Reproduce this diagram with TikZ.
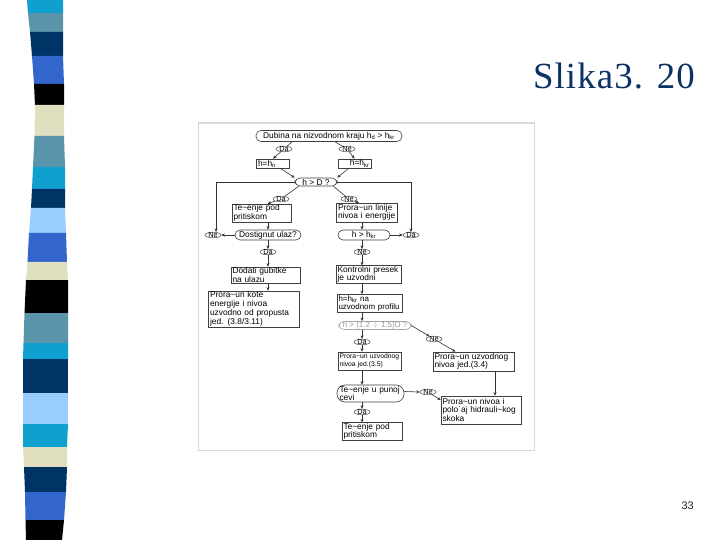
\documentclass[tikz,border=0pt]{standalone}
\usepackage{fontspec}
\setmainfont{Liberation Sans}
\newfontfamily\serifT[LetterSpace=3]{Liberation Serif}
\usetikzlibrary{arrows.meta,shapes.geometric,calc}
\definecolor{scyan}{RGB}{16,160,208}
\definecolor{ssteel}{RGB}{90,148,170}
\definecolor{snavy}{RGB}{0,51,102}
\definecolor{sroyal}{RGB}{51,102,204}
\definecolor{sbeige}{RGB}{224,224,192}
\definecolor{slight}{RGB}{153,204,255}
\definecolor{titlec}{RGB}{10,50,100}
\tikzset{
  fc/.style={font=\fontsize{8.4}{8.5}\selectfont},
  box/.style={draw=black!75, line width=0.6bp, fill=white, rectangle, inner xsep=1.5bp, inner ysep=0.6bp, align=left, fc},
  term/.style={draw=black!75, line width=0.6bp, rectangle, rounded corners=5bp, inner xsep=1bp, inner ysep=0.2bp, align=center, fc},
  yn/.style={draw=black!75, line width=0.5bp, ellipse, inner xsep=0.5bp, inner ysep=-0.6bp, minimum width=16bp, font=\fontsize{7.4}{7.4}\selectfont},
  arr/.style={-{Stealth[length=3.5bp,width=3bp]}, line width=0.6bp, draw=black!80},
  ln/.style={line width=0.6bp, draw=black!80}
}
\begin{document}
\begin{tikzpicture}[x=1bp,y=-1bp]
\useasboundingbox (0,0) rectangle (720,540);
% left stripe
\fill[scyan]  (27,0) -- (63,0) -- (63,13) -- (28,13) -- cycle;
\fill[ssteel] (28,13) -- (63,13) -- (63,32) -- (30,32) -- cycle;
\fill[snavy]  (30,32) -- (63,32) -- (63,56) -- (32,56) -- cycle;
\fill[sroyal] (32,56) -- (63,56) -- (64,84) -- (34,84) -- cycle;
\fill[black]  (34,84) -- (64,84) -- (64,105) -- (35,105) -- cycle;
\fill[sbeige] (35,105) -- (64,105) -- (64,136) -- (34.5,136) -- cycle;
\fill[ssteel] (34.5,136) -- (64,136) -- (65,167) -- (33,167) -- cycle;
\fill[scyan]  (33,167) -- (65,167) -- (65,189) -- (32,189) -- cycle;
\fill[snavy]  (32,189) -- (65,189) -- (65,208) -- (31,208) -- cycle;
\fill[slight] (31,208) -- (65,208) -- (66,233) -- (29,233) -- cycle;
\fill[sroyal] (29,233) -- (66,233) -- (67,262) -- (27.5,262) -- cycle;
\fill[sbeige] (27.5,262) -- (67,262) -- (68,280) -- (26,280) -- cycle;
\fill[black]  (26,280) -- (68,280) -- (68,313) -- (24.5,313) -- cycle;
\fill[ssteel] (24.5,313) -- (68,313) -- (68,343) -- (23.5,343) -- cycle;
\fill[scyan]  (23.5,343) -- (68,343) -- (68,359) -- (23,359) -- cycle;
\fill[snavy]  (23,359) -- (68,359) -- (68,393) -- (23,393) -- cycle;
\fill[slight] (23,393) -- (68,393) -- (68,424) -- (23,424) -- cycle;
\fill[scyan]  (23,424) -- (68,424) -- (67,447) -- (23,447) -- cycle;
\fill[sbeige] (23,447) -- (67,447) -- (67,467) -- (24,467) -- cycle;
\fill[snavy]  (24,467) -- (67,467) -- (66,492) -- (25,492) -- cycle;
\fill[sroyal] (25,492) -- (66,492) -- (64,520) -- (25.5,520) -- cycle;
\fill[black]  (25.5,520) -- (64,520) -- (62,540) -- (26,540) -- cycle;
% title and page number
\node[anchor=base east, text=titlec, font=\serifT\fontsize{37}{37}\selectfont, inner sep=0] (title) at (695,89) {Slika3. 20};
\node[anchor=base east, font=\fontsize{11}{11}\selectfont, inner sep=0, text=black!85] (pnum) at (694,509) {33};
% figure frame
\draw[black!15, line width=1.5bp, fill=white] (198.5,123) rectangle (534.5,450.5);
% nodes
\node[term, minimum width=146bp, minimum height=11bp] (n1) at (329,136) {Dubina na nizvodnom kraju h\textsubscript{d} > h\textsubscript{kr}};
\node[yn] (e1) at (284,149) {Da};
\node[yn] (e2) at (347,149) {Ne};
\node[box, minimum width=33bp, minimum height=9bp, text width=30bp, inner ysep=0bp] (b1) at (273,163.5) {h=h\textsubscript{n}};
\node[box, minimum width=33bp, minimum height=9bp, text width=30bp, inner ysep=0bp, align=right] (b2) at (354.5,163.5) {h=h\textsubscript{kr}};
\node[term, minimum width=42bp, minimum height=8bp] (n2) at (316,182) {h > D ?};
\node[yn] (e3) at (281,199) {Da};
\node[yn] (e4) at (349,199) {Ne};
\node[box, minimum width=59bp, minimum height=18bp, text width=56bp] (b3) at (261.5,213) {Te\textasciitilde enje pod\\pritiskom};
\node[box, minimum width=61bp, minimum height=19bp, text width=58bp] (b4) at (367,212.5) {Prora\textasciitilde un linije\\nivoa i energije};
\node[term, minimum width=66bp, minimum height=10bp] (n3) at (268,235) {Dostignut ulaz?};
\node[yn] (e5) at (213,235) {Ne};
\node[term, minimum width=52bp, minimum height=10bp] (n4) at (364,235) {h > h\textsubscript{kr}};
\node[yn] (e6) at (411,235) {Da};
\node[yn] (e7) at (268,252) {Da};
\node[yn] (e8) at (362,252) {Ne};
\node[box, minimum width=69bp, minimum height=16bp, text width=66bp] (b5) at (265.5,275) {Dodati gubitke\\na ulazu};
\node[box, minimum width=65bp, minimum height=17bp, text width=62bp] (b6) at (368.5,274.5) {Kontrolni presek\\je uzvodni};
\node[box, minimum width=91bp, minimum height=36bp, text width=88bp, font=\fontsize{8.4}{9}\selectfont] (b7) at (254,309) {Prora\textasciitilde un kote\\energije i nivoa\\uzvodno od propusta\\jed. (3.8/3.11)};
\node[box, minimum width=65bp, minimum height=18bp, text width=62bp, font=\fontsize{8}{8.5}\selectfont] (b8) at (369.5,303.5) {h=h\textsubscript{kr} na\\uzvodnom profilu};
\node[term, draw=black!35, text=black!40, minimum width=72bp, minimum height=8bp, font=\fontsize{8}{8.5}\selectfont] (n5) at (375,325.5) {h > (1.2 $\div$ 1.5)D ?};
\node[yn] (e9) at (434,339) {Ne};
\node[yn] (e10) at (362,342) {Da};
\node[box, minimum width=63bp, minimum height=18bp, text width=60bp, font=\fontsize{6.8}{8.5}\selectfont] (b9) at (369.5,361) {Prora\textasciitilde un uzvodnog\\nivoa jed.(3.5)};
\node[box, minimum width=81bp, minimum height=19bp, text width=78bp] (b10) at (473.5,361.5) {Prora\textasciitilde un uzvodnog\\nivoa jed.(3.4)};
\node[term, rounded corners=8bp, minimum width=67bp, minimum height=17bp, text width=62bp, align=left, fc] (n6) at (370.5,393.5) {Te\textasciitilde enje u punoj\\cevi};
\node[yn] (e11) at (428,392) {Ne};
\node[box, minimum width=80bp, minimum height=28bp, text width=77bp] (b11) at (481,410) {Prora\textasciitilde un nivoa i\\polo\textasciigrave aj hidrauli\textasciitilde kog\\skoka};
\node[yn] (e12) at (362,412) {Da};
\node[box, minimum width=60bp, minimum height=17bp, text width=57bp] (b12) at (372,431.5) {Te\textasciitilde enje pod\\pritiskom};
% connectors
\draw[ln] ([xshift=-37bp]n1.south) -- (e1);
\draw[arr] (e1) -- (b1.north);
\draw[ln] ([xshift=6bp]n1.south) -- (e2);
\draw[arr] (e2) -- (b2.north);
\draw[arr] (b1) -- (n2.north west);
\draw[arr] (b2) -- (n2.north east);
\draw[ln] ([xshift=4bp]n2.south west) -- (e3);
\draw[arr] (e3) -- ([xshift=6bp]b3.north);
\draw[ln] ([xshift=-4bp]n2.south east) -- (e4);
\draw[arr] (e4) -- ([xshift=-8bp]b4.north);
\draw[arr] (n2.west) -| ([xshift=3bp]e5.north);
\draw[arr] (n2.east) -| (e6.north);
\draw[arr] (n3.north |- b3.south) -- (n3.north);
\draw[arr] (n3.west) -- (e5.east);
\draw[arr] (e8 |- b4.south) -- (e8 |- n4.north);
\draw[arr] (n4.east) -- (e6.west);
\draw[arr] (n3.south) -- (e7.north);
\draw[arr] (e7.south) -- (e7 |- b5.north);
\draw[arr] (e8 |- n4.south) -- (e8.north);
\draw[arr] (e8.south) -- (e8 |- b6.north);
\draw[arr] (e7 |- b5.south) -- (e7 |- b7.north);
\draw[arr] (e8 |- b6.south) -- (e8 |- b8.north);
\draw[arr] (e8 |- b8.south) -- (e8 |- n5.north);
\draw[arr] (e10 |- n5.south) -- (e10.north);
\draw[arr] (e10.south) -- (e10 |- b9.north);
\draw[arr] (n5.east) -- (e9);
\draw[arr] (e9) -- ([xshift=-18bp]b10.north);
\draw[arr] (e10 |- b9.south) -- (e10 |- n6.north);
\draw[arr] ([yshift=2bp]n6.east) -- (e11.west);
\draw[arr] (e11) -- ([yshift=10bp]b11.west);
\draw[arr] ([xshift=21.5bp]b10.south) -- ([xshift=21.5bp]b10.south |- b11.north);
\draw[arr] (e12 |- n6.south) -- (e12.north);
\draw[arr] (e12.south) -- (e12 |- b12.north);
\end{tikzpicture}
\end{document}
